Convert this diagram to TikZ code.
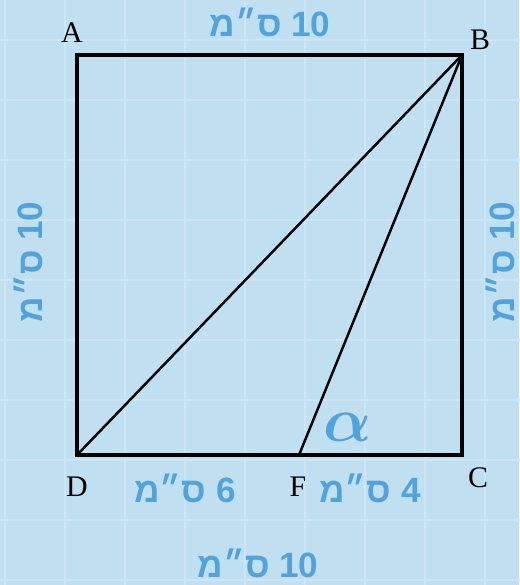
\documentclass[tikz,border=0pt]{standalone}
\usepackage{bm}
\usepackage{fontspec}
\setmainfont{Liberation Serif}
\newfontfamily\hebfont[Script=Hebrew]{Liberation Sans}
\TeXXeTstate=1
\usetikzlibrary{positioning, calc}
\definecolor{bgblue}{RGB}{192,223,241}
\definecolor{gridblue}{RGB}{204,230,245}
\definecolor{lblblue}{RGB}{82,163,220}

\begin{document}
\begin{tikzpicture}[
    pt_label/.style={font=\fontsize{17}{17}\selectfont, text=black, inner sep=0pt},
    len_label/.style={font=\hebfont\bfseries\fontsize{20}{20}\selectfont, text=lblblue, inner sep=0pt},
    side/.style={line width=2.2pt, line join=miter},
    ray/.style={line width=1.4pt},
    ]
    % Background
    \fill[bgblue] (0,0) rectangle (10.38,11.7);
    \useasboundingbox (0,0) rectangle (10.38,11.7);
    \draw[gridblue, line width=1pt, shift={(0.1,0.1)}] (-0.1,-0.1) grid[step=1.2] (10.3,11.6);

    % Points
    \coordinate (A) at (1.54,10.6);
    \coordinate (B) at (9.24,10.6);
    \coordinate (C) at (9.24,2.6);
    \coordinate (D) at (1.54,2.6);
    \coordinate (F) at (5.98,2.6);

    % Lines
    \draw[side] (A) -- (B) -- (C) -- (D) -- cycle;
    \draw[ray] (D) -- (B);
    \draw[ray] (F) -- (B);

    % Nodes
    \node[pt_label] (la) at (1.44,11.04) {A};
    \node[pt_label] (lb) at (9.6,10.9) {B};
    \node[pt_label] (lc) at (9.56,2.14) {C};
    \node[pt_label] (ld) at (1.54,1.96) {D};
    \node[pt_label] (lf) at (5.96,1.96) {F};
    \node[text=lblblue, inner sep=0pt, scale=1.45, font=\fontsize{24}{24}\selectfont] (alpha) at (6.95,3.15) {$\bm{\alpha}$};

    \node[len_label] (top) at (5.4,11.26) {\beginR\beginL10\endL{} ס״מ\endR};
    \node[len_label, rotate=90] (left) at (0.56,6.46) {\beginR\beginL10\endL{} ס״מ\endR};
    \node[len_label, rotate=90] (right) at (10.0,6.46) {\beginR\beginL10\endL{} ס״מ\endR};
    \node[len_label] (df) at (3.7,1.94) {\beginR\beginL6\endL{} ס״מ\endR};
    \node[len_label] (fc) at (7.4,1.94) {\beginR\beginL4\endL{} ס״מ\endR};
    \node[len_label] (bottom) at (5.16,0.44) {\beginR\beginL10\endL{} ס״מ\endR};
\end{tikzpicture}
\end{document}
